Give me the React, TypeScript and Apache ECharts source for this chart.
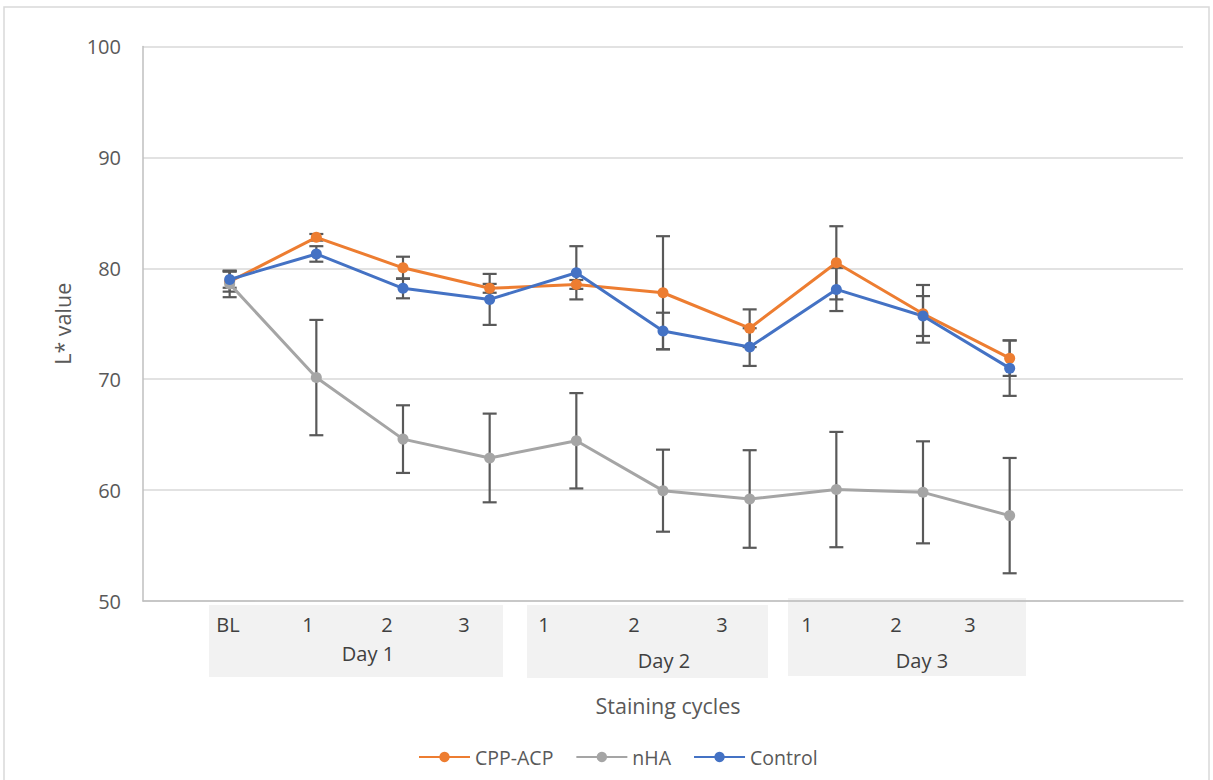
import React, { useEffect, useRef } from "react";
import * as echarts from "echarts";

const seriesNames = ["CPP-ACP", "nHA", "Control"];
const seriesColors = ["#ED7D31", "#A5A5A5", "#4472C4"];

const cycleLabels = ["BL", "1", "2", "3", "1", "2", "3", "1", "2", "3"];
const dayLabels = ["Day 1", "Day 2", "Day 3"];

const cppAcp = [78.8, 82.8, 80.05, 78.2, 78.55, 77.8, 74.6, 80.5, 75.9, 71.9];
const cppAcpSd = [0.9, 0.3, 1.0, 0.4, 0.4, 5.1, 1.7, 3.3, 2.6, 1.6];
const nha = [78.6, 70.15, 64.6, 62.9, 64.45, 59.95, 59.2, 60.05, 59.8, 57.7];
const nhaSd = [1.2, 5.2, 3.05, 4.0, 4.3, 3.7, 4.4, 5.2, 4.6, 5.2];
const control = [79.0, 81.3, 78.2, 77.2, 79.6, 74.35, 72.9, 78.1, 75.7, 71.0];
const controlSd = [0.75, 0.7, 0.9, 2.3, 2.4, 1.65, 1.7, 1.95, 1.8, 2.5];

const yTicks = { min: 50, max: 100, interval: 10 };

const FONT = "'Open Sans', 'Liberation Sans', sans-serif";

// layout positions of the grouped category labels (not data)
const cycleLabelX = [228, 308, 387, 464, 544, 634, 722, 807, 896, 970];
const dayLabelPos = [
  { x: 368, y: 653 },
  { x: 664, y: 660 },
  { x: 922, y: 660 },
];
const dayBoxes = [
  { x: 209, y: 605, w: 294, h: 72 },
  { x: 527, y: 605, w: 241, h: 73 },
  { x: 788, y: 598, w: 238, h: 78 },
];

export default function App() {
  const ref = useRef<HTMLDivElement>(null);

  useEffect(() => {
    if (!ref.current) return;
    const chart = echarts.init(ref.current, undefined, { renderer: "svg" });

    const means = [cppAcp, nha, control];
    const sds = [cppAcpSd, nhaSd, controlSd];

    const series: any[] = [];
    means.forEach((vals, s) => {
      series.push({
        name: seriesNames[s] + " error",
        type: "custom",
        silent: true,
        data: vals.map((v, i) => [i + 1, v - sds[s][i], v + sds[s][i]]),
        encode: { x: 0, y: [1, 2] },
        renderItem: (params: any, api: any) => {
          const x = api.value(0);
          const lo = api.coord([x, api.value(1)]);
          const hi = api.coord([x, api.value(2)]);
          const half = 7;
          const style = { stroke: "#595959", lineWidth: 2.2 };
          return {
            type: "group",
            children: [
              { type: "line", shape: { x1: lo[0], y1: lo[1], x2: hi[0], y2: hi[1] }, style },
              { type: "line", shape: { x1: lo[0] - half, y1: lo[1], x2: lo[0] + half, y2: lo[1] }, style },
              { type: "line", shape: { x1: hi[0] - half, y1: hi[1], x2: hi[0] + half, y2: hi[1] }, style },
            ],
          };
        },
      });
    });
    means.forEach((vals, s) => {
      series.push({
        name: seriesNames[s],
        type: "line",
        data: vals.map((v, i) => [i + 1, v]),
        symbol: "circle",
        symbolSize: 11,
        lineStyle: { width: 3, color: seriesColors[s] },
        itemStyle: { color: seriesColors[s] },
        z: 3,
      });
    });

    const graphic: any[] = [
      {
        type: "rect",
        shape: { x: 4, y: 7, width: 1205, height: 780 },
        style: { fill: "none", stroke: "#d9d9d9", lineWidth: 1.5 },
        silent: true,
      },
      ...dayBoxes.map((b) => ({
        type: "rect",
        z: -10,
        shape: { x: b.x, y: b.y, width: b.w, height: b.h },
        style: { fill: "#f2f2f2" },
        silent: true,
      })),
      ...cycleLabels.map((t, i) => ({
        type: "text",
        x: cycleLabelX[i],
        y: 624,
        style: {
          text: t,
          fill: "#404040",
          fontSize: 20,
          fontFamily: FONT,
          textAlign: "center",
          textVerticalAlign: "middle",
        },
      })),
      ...dayLabels.map((t, i) => ({
        type: "text",
        x: dayLabelPos[i].x,
        y: dayLabelPos[i].y,
        style: {
          text: t,
          fill: "#404040",
          fontSize: 20,
          fontFamily: FONT,
          textAlign: "center",
          textVerticalAlign: "middle",
        },
      })),
      {
        type: "text",
        x: 668,
        y: 705,
        style: {
          text: "Staining cycles",
          fill: "#595959",
          fontSize: 21.5,
          fontFamily: FONT,
          textAlign: "center",
          textVerticalAlign: "middle",
        },
      },
    ];

    chart.setOption({
      animation: false,
      backgroundColor: "#ffffff",
      grid: { left: 143, right: 30, top: 46.6, bottom: 179, containLabel: false },
      xAxis: {
        type: "value",
        min: 0,
        max: 12,
        axisLabel: { show: false },
        axisTick: { show: false },
        splitLine: { show: false },
        axisLine: { show: true, lineStyle: { color: "#bfbfbf", width: 1.5 } },
      },
      yAxis: {
        type: "value",
        min: yTicks.min,
        max: yTicks.max,
        interval: yTicks.interval,
        name: "L* value",
        nameLocation: "middle",
        nameRotate: 90,
        nameGap: 70,
        nameTextStyle: { fontSize: 21.5, color: "#595959", fontFamily: FONT },
        axisLine: { show: true, lineStyle: { color: "#bfbfbf", width: 1.5 } },
        axisTick: { show: false },
        axisLabel: { fontSize: 20, color: "#595959", fontFamily: FONT, margin: 22 },
        splitLine: { show: true, lineStyle: { color: "#d9d9d9", width: 1.5 } },
      },
      legend: {
        data: seriesNames,
        left: 413,
        top: 742,
        itemWidth: 51,
        itemHeight: 13,
        itemGap: 22,
        textStyle: { fontSize: 19.5, color: "#595959", fontFamily: FONT },
      },
      graphic,
      series,
    });

    return () => chart.dispose();
  }, []);

  return (
    <div
      ref={ref}
      style={{ position: "absolute", left: 0, top: 0, width: 1213, height: 780 }}
    />
  );
}
